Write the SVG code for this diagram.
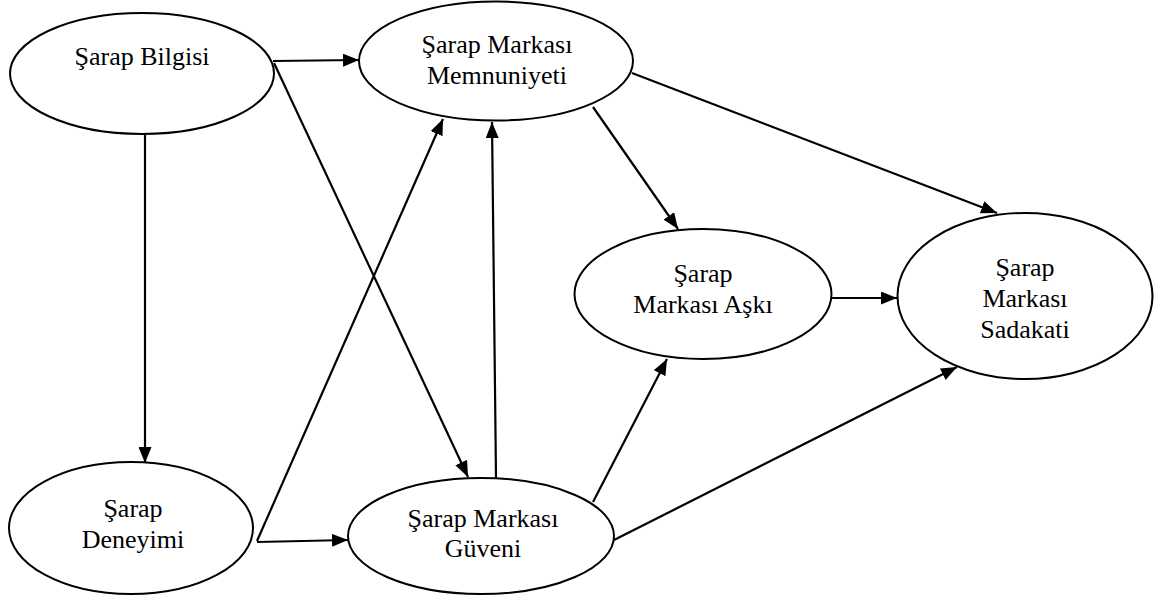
<svg xmlns="http://www.w3.org/2000/svg" width="1155" height="598" viewBox="0 0 1155 598">
  <style>
    .node ellipse { fill: #ffffff; stroke: #000000; stroke-width: 2; }
    .node text { font-family: "Liberation Serif", "Times New Roman", serif; font-size: 26px; fill: #000000; text-anchor: middle; }
    .edge { stroke: #000000; stroke-width: 2.2; fill: none; marker-end: url(#arrow); }
  </style>
  <defs>
    <marker id="arrow" markerUnits="userSpaceOnUse" markerWidth="16" markerHeight="13" refX="16" refY="6.5" orient="auto">
      <path d="M0,0 L16,6.5 L0,13 Z" fill="#000000"/>
    </marker>
  </defs>
  <rect width="1155" height="598" fill="#ffffff"/>

  <!-- connectors -->
  <g id="connectors">
    <line class="edge" x1="273" y1="61" x2="359" y2="60"/>
    <line class="edge" x1="274" y1="63" x2="468" y2="477"/>
    <line class="edge" x1="145" y1="132" x2="145" y2="463"/>
    <line class="edge" x1="257" y1="541" x2="443" y2="119"/>
    <line class="edge" x1="257" y1="542" x2="348" y2="540"/>
    <line class="edge" x1="496" y1="478" x2="492" y2="122"/>
    <line class="edge" x1="593" y1="107" x2="678" y2="229"/>
    <line class="edge" x1="632" y1="73" x2="997" y2="213"/>
    <line class="edge" x1="831" y1="298" x2="897" y2="298"/>
    <line class="edge" x1="593" y1="502" x2="667" y2="359"/>
    <line class="edge" x1="614" y1="540" x2="957" y2="367"/>
  </g>

  <g id="sarap-bilgisi" class="node">
    <ellipse cx="142" cy="73.5" rx="132" ry="60.5"/>
    <text x="142" y="65">Şarap Bilgisi</text>
  </g>

  <g id="memnuniyet" class="node">
    <ellipse cx="496" cy="61" rx="137" ry="59.5"/>
    <text x="497" y="53">Şarap Markası</text>
    <text x="497" y="84">Memnuniyeti</text>
  </g>

  <g id="marka-aski" class="node">
    <ellipse cx="703" cy="294" rx="128.5" ry="65"/>
    <text x="703" y="282">Şarap</text>
    <text x="703" y="313">Markası Aşkı</text>
  </g>

  <g id="sadakat" class="node">
    <ellipse cx="1025" cy="296" rx="127.5" ry="83"/>
    <text x="1025" y="276">Şarap</text>
    <text x="1025" y="307">Markası</text>
    <text x="1025" y="338">Sadakati</text>
  </g>

  <g id="deneyim" class="node">
    <ellipse cx="131" cy="528" rx="122" ry="66"/>
    <text x="133" y="517">Şarap</text>
    <text x="133" y="548">Deneyimi</text>
  </g>

  <g id="guven" class="node">
    <ellipse cx="481" cy="536" rx="133" ry="58"/>
    <text x="483" y="527">Şarap Markası</text>
    <text x="483" y="557">Güveni</text>
  </g>
</svg>
